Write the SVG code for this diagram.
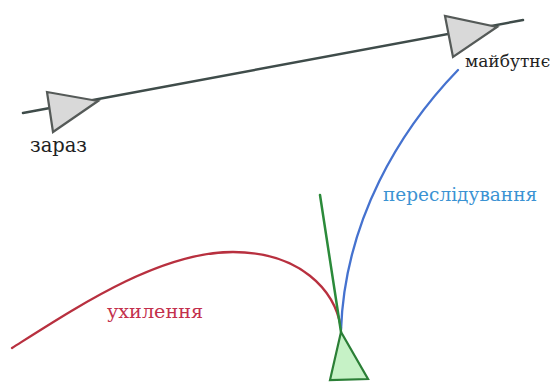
<svg xmlns="http://www.w3.org/2000/svg" width="558" height="383" viewBox="0 0 558 383">
<style>
.tri{fill:#d9d9d9;stroke:#555a58;stroke-width:2.2;stroke-linejoin:miter;}
.gtri{fill:#c6f2c6;stroke:#2b7f36;stroke-width:2.2;}
</style>
<rect width="558" height="383" fill="#ffffff"/>
<g id="connectors" fill="none" stroke-linecap="round">
<line id="timeline" x1="23" y1="113" x2="523" y2="20" stroke="#3f4c4a" stroke-width="2.5"/>
<path id="evade" d="M12,348 C80,305 160,252 233,252 C300,252 335,290 341,328" stroke="#b8303f" stroke-width="2.3"/>
<path id="pursue" d="M458,70 C400,130 345,220 341,330" stroke="#4572cf" stroke-width="2.3"/>
<line id="heading" x1="320" y1="195" x2="341" y2="332" stroke="#2b8a3a" stroke-width="2.5"/>
</g>
<g id="now">
<polygon class="tri" points="47,92 53,132 98,101"/>
<text font-family="'DejaVu Serif', serif" x="30" y="152" font-size="19.5" fill="#222">зараз</text>
</g>
<g id="future">
<polygon class="tri" points="445,16 453,57 497,27"/>
<text font-family="'DejaVu Serif', serif" x="465" y="67" font-size="17" fill="#222">майбутнє</text>
</g>
<g id="agent">
<polygon class="gtri" points="341,332 330,380 368,379"/>
</g>
<g id="labels">
<text font-family="'DejaVu Serif', serif" x="383" y="201" font-size="18.5" fill="#3b93d3">переслідування</text>
<text font-family="'DejaVu Serif', serif" x="107" y="318" font-size="19.2" fill="#c3304c">ухилення</text>
</g>
</svg>
